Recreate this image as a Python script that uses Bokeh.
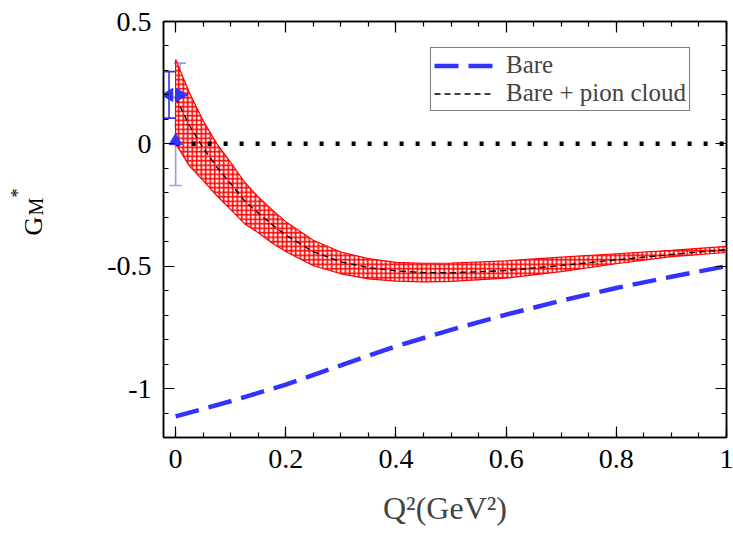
import math
from bokeh.plotting import figure
from bokeh.models import (ColumnDataSource, Legend, LegendItem, LinearAxis, SingleIntervalTicker,
                          CustomJSTickFormatter, Whisker, TeeHead, Title)
from bokeh.embed import file_html
from bokeh.resources import INLINE

# ---------------- data ----------------
q2_band = [0, 0.025, 0.05, 0.075, 0.1, 0.125, 0.15, 0.175, 0.2, 0.25, 0.3, 0.35,
           0.4, 0.45, 0.5, 0.6, 0.7, 0.8, 0.9, 1.0]
band_upper = [0.345, 0.21, 0.094, 0.0, -0.076, -0.156, -0.217, -0.269, -0.318, -0.394, -0.442,
              -0.469, -0.484, -0.488, -0.487, -0.478, -0.463, -0.449, -0.435, -0.419]
band_lower = [0.001, -0.09, -0.150, -0.212, -0.269, -0.326, -0.363, -0.405, -0.440, -0.498, -0.531,
              -0.552, -0.561, -0.564, -0.562, -0.549, -0.522, -0.490, -0.461, -0.444]
pion_center = [0.19, 0.075, -0.016, -0.095, -0.163, -0.232, -0.283, -0.33, -0.373, -0.441, -0.482,
               -0.506, -0.519, -0.526, -0.527, -0.518, -0.497, -0.474, -0.452, -0.432]

q2_bare = [0, 0.1, 0.2, 0.3, 0.4, 0.5, 0.6, 0.7, 0.8, 0.9, 1.0]
bare = [-1.114, -1.052, -0.984, -0.905, -0.827, -0.760, -0.698, -0.641, -0.589, -0.543, -0.500]

zero_q2 = [0.0, 1.0]
zero_g = [0.0, 0.0]

exp_q2 = [-0.012, 0.008, 0.0]
exp_g = [0.20, 0.20, 0.012]
exp_lo = [0.105, 0.075, -0.17]
exp_hi = [0.295, 0.33, 0.19]
exp_angle = [math.pi / 2, -math.pi / 2, 0.0]
exp_bar_color = ["#3030ff", "#9a9af2", "#9a9af2"]

x_ticks_interval = 0.2
y_ticks_interval = 0.5

FONT = "Liberation Serif"
BLUE = "#3333ff"

p = figure(width=733, height=537, x_range=(-0.022, 1.0), y_range=(-1.2, 0.5),
           output_backend="svg", toolbar_location=None,
           min_border_left=163, min_border_right=7, min_border_top=21, min_border_bottom=100,
           background_fill_color="white", border_fill_color="white")
p.grid.visible = False
p.outline_line_color = "black"
p.outline_line_width = 1.5

fmt = CustomJSTickFormatter(code="return (Math.round(tick*10)/10).toString();")
blank = CustomJSTickFormatter(code="return '';")

xt = SingleIntervalTicker(interval=x_ticks_interval, num_minor_ticks=4)
yt = SingleIntervalTicker(interval=y_ticks_interval, num_minor_ticks=5)

xa = p.below[0]
ya = p.left[0]
xa.ticker = xt
xa.formatter = fmt
ya.ticker = yt
ya.formatter = fmt

top_ax = LinearAxis(ticker=xt, formatter=blank)
right_ax = LinearAxis(ticker=yt, formatter=blank)
p.add_layout(top_ax, "above")
p.add_layout(right_ax, "right")

for ax in [xa, ya, top_ax, right_ax]:
    ax.axis_line_color = "black"
    ax.axis_line_width = 1.5
    ax.major_tick_line_color = "black"
    ax.minor_tick_line_color = "black"
    ax.major_tick_line_width = 1.2
    ax.minor_tick_line_width = 1.2
    ax.major_tick_in = 11
    ax.major_tick_out = 0
    ax.minor_tick_in = 5
    ax.minor_tick_out = 0
    ax.major_label_text_font = FONT
    ax.major_label_text_font_size = "28px"
    ax.major_label_text_color = "black"

top_ax.major_label_standoff = 0
right_ax.major_label_standoff = 0
top_ax.major_label_text_font_size = "1px"
right_ax.major_label_text_font_size = "1px"

xa.major_label_standoff = 12
ya.major_label_standoff = 12
xa.axis_label = "Q²(GeV²)"
xa.axis_label_text_font = FONT
xa.axis_label_text_font_size = "32px"
xa.axis_label_text_font_style = "normal"
xa.axis_label_standoff = 19

# left axis label area used as a spacer; the y label G_M^* is built from titles
ya.axis_label = " "
ya.axis_label_text_font_size = "1px"
ya.axis_label_standoff = 65


def side_title(text, size, offset, standoff):
    return Title(text=text, align="left", vertical_align="middle", offset=offset,
                 standoff=standoff, text_font=FONT, text_font_size=size,
                 text_font_style="normal", text_color="black")


p.add_layout(side_title("M", "20px", 222, -24), "left")
p.add_layout(side_title("G", "26px", 202, -27), "left")
p.add_layout(side_title("*", "18px", 240, 5), "left")

# band
band_x = q2_band + q2_band[::-1]
band_y = band_upper + band_lower[::-1]
p.patch(band_x, band_y, fill_color="white", line_color="red", line_width=1.2,
        hatch_pattern="cross", hatch_color="red", hatch_scale=4.5, hatch_weight=1.6)

# zero dotted line
p.line(zero_q2, zero_g, line_color="black", line_width=4.5, line_dash="4 12")

r_center = p.line(q2_band, pion_center, line_color="black", line_width=1.3, line_dash="6 4")
r_bare = p.line(q2_bare, bare, line_color=BLUE, line_width=4.5, line_dash="24 10")

# experimental points
src = ColumnDataSource(dict(x=exp_q2, y=exp_g, lo=exp_lo, hi=exp_hi, a=exp_angle, c=exp_bar_color))
p.add_layout(Whisker(source=src, base="x", upper="hi", lower="lo", dimension="height",
                     line_color="c", line_width=1.6,
                     upper_head=TeeHead(size=12, line_color="c", line_width=1.6),
                     lower_head=TeeHead(size=12, line_color="c", line_width=1.6)))
p.scatter("x", "y", source=src, marker="triangle", angle="a", size=13,
          fill_color=BLUE, line_color=BLUE)

legend = Legend(items=[LegendItem(label="Bare", renderers=[r_bare]),
                       LegendItem(label="Bare + pion cloud", renderers=[r_center])],
                location=(267, 326), glyph_width=60, glyph_height=23, label_height=23,
                label_standoff=12, padding=3, spacing=0, margin=0,
                label_text_font=FONT, label_text_font_size="25px",
                border_line_color="black", border_line_width=1.5,
                background_fill_color="white", background_fill_alpha=1.0)
p.add_layout(legend)

open("out.html", "w").write(file_html(p, INLINE))
